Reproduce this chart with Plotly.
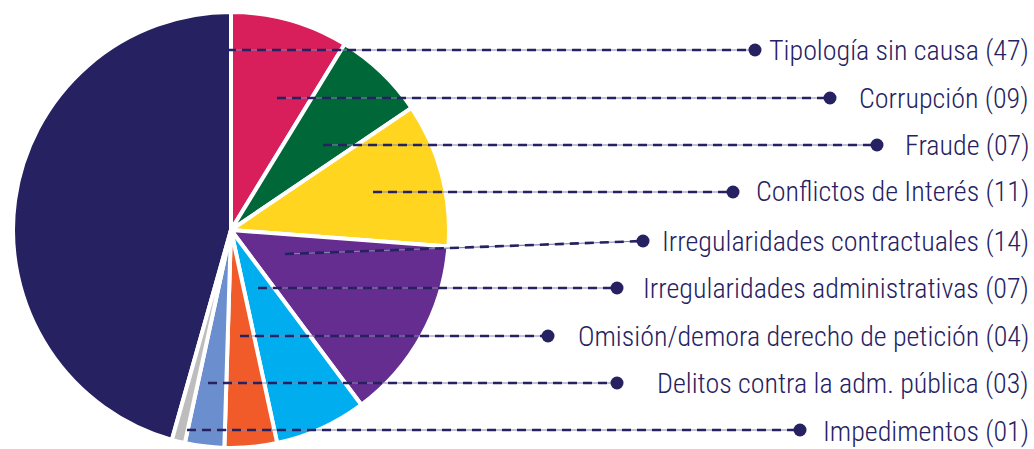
import plotly.graph_objects as go

# ---- data ----
labels = [
    "Tipología sin causa",
    "Corrupción",
    "Fraude",
    "Conflictos de Interés",
    "Irregularidades contractuales",
    "Irregularidades administrativas",
    "Omisión/demora derecho de petición",
    "Delitos contra la adm. pública",
    "Impedimentos",
]
values = [47, 9, 7, 11, 14, 7, 4, 3, 1]
value_text = ["47", "09", "07", "11", "14", "07", "04", "03", "01"]

# ---- style / layout ----
colors = ["#262262", "#D81E5B", "#006838", "#FFD520", "#662D91",
          "#00AEEF", "#F15A29", "#6A8ECE", "#BDBDBD"]
W, H = 1034, 449
NAVY = "#262262"
FONT = "Roboto Condensed, Liberation Sans Narrow, sans-serif"
# leader start point (inside slice) and dot position, in pixels
lead_start = [(227, 50), (277, 98), (323, 145), (373, 192), (285, 254),
              (258, 288), (240, 336), (208, 383), (187, 430)]
dot_pos = [(755, 50), (830, 98), (877, 145), (733, 192), (643, 241),
           (617, 288), (548, 336), (617, 383), (800, 430)]
label_y = [50, 98, 145, 192, 241, 288, 336, 383, 431]

cx, cy, r = 231, 230, 218


def px(x):
    return x / W


def py(y):
    return 1 - y / H


total = sum(values)
fig = go.Figure()
fig.add_trace(go.Pie(
    labels=labels, values=values, sort=False, direction="clockwise",
    rotation=360 - 360 * values[0] / total,
    marker=dict(colors=colors, line=dict(color="white", width=4)),
    textinfo="none", hoverinfo="label+value",
    domain=dict(x=[px(cx - r), px(cx + r)], y=[py(cy + r), py(cy - r)]),
    showlegend=False,
))

shapes = []
annotations = []
for i, lab in enumerate(labels):
    x0, y0 = lead_start[i]
    x1, y1 = dot_pos[i]
    shapes.append(dict(type="line", xref="paper", yref="paper",
                       x0=px(x0), y0=py(y0), x1=px(x1), y1=py(y1),
                       line=dict(color="#8583ad", width=1.2)))
    shapes.append(dict(type="line", xref="paper", yref="paper",
                       x0=px(x0), y0=py(y0), x1=px(x1), y1=py(y1),
                       line=dict(color=NAVY, width=2.6, dash="9px,6px")))
    rr = 6.5
    shapes.append(dict(type="circle", xref="paper", yref="paper",
                       x0=px(x1 - rr), x1=px(x1 + rr),
                       y0=py(y1 + rr), y1=py(y1 - rr),
                       fillcolor=NAVY, line=dict(width=0)))
    annotations.append(dict(
        xref="paper", yref="paper", x=px(1031), y=py(label_y[i]),
        xanchor="right", yanchor="middle", showarrow=False,
        text=f"{lab} ({value_text[i]})",
        font=dict(family=FONT, size=28, color=NAVY, weight=300),
    ))

fig.update_layout(
    width=W, height=H, margin=dict(l=0, r=0, t=0, b=0),
    paper_bgcolor="white", plot_bgcolor="white",
    shapes=shapes, annotations=annotations,
)
fig.write_html("out.html", config={"displayModeBar": False},
               post_script="document.body.style.margin='0';")
